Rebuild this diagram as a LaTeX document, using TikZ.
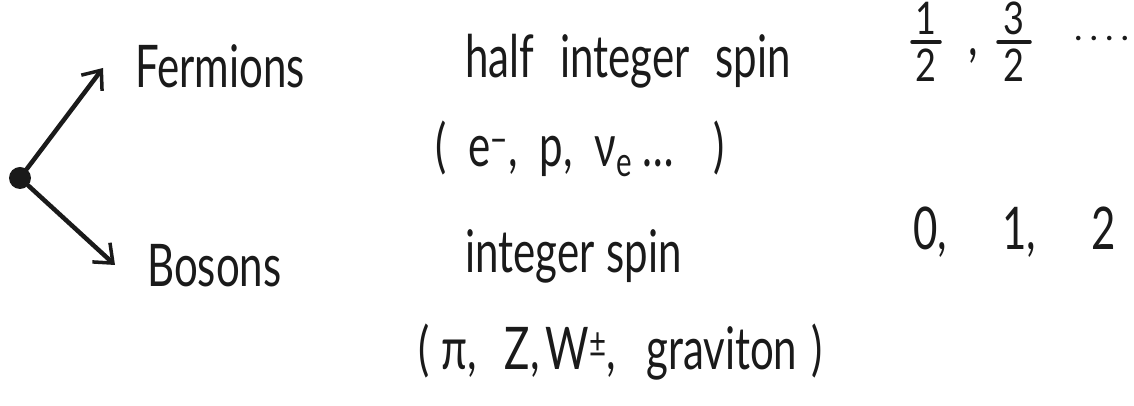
\documentclass[tikz,border=0pt]{standalone}
\usepackage{fontspec}
\setmainfont{Lato}
\usetikzlibrary{arrows.meta}
\definecolor{ink}{HTML}{1A1A1A}
\newcommand{\tallt}[1]{\scalebox{1}[1.4]{#1}}
\newcommand{\tallf}[1]{\scalebox{1}[1.25]{#1}}
\tikzset{
  lbl/.style={anchor=base west, inner sep=0pt, text=ink, font=\fontsize{42}{50}\selectfont},
  small/.style={inner sep=0pt, text=ink, font=\fontsize{36}{42}\selectfont},
  branch/.style={draw=ink, line width=4.5pt, line cap=round, -{Straight Barb[length=16pt,width=26pt,line width=3.5pt]}},
  hub/.style={circle, fill=ink, minimum size=22pt, inner sep=0pt},
  bar/.style={draw=ink, line width=3.5pt, line cap=round}
}
\begin{document}
\begin{tikzpicture}[x=1pt,y=1pt]
\useasboundingbox (0,0) rectangle (1134,406);
\node[hub] (dot) at (20,228) {};
\node[lbl] (ferm) at (135,318) {\tallt{Fermions}};
\node[lbl] (bos) at (147,119) {\tallt{Bosons}};
\coordinate (ftip) at (103,338);
\coordinate (btip) at (115,141);
\draw[branch] (dot) -- (ftip);
\draw[branch] (dot) -- (btip);
\node[lbl] (half) at (465,328) {\tallt{half\hspace{26pt}integer\hspace{26pt}spin}};
\node[lbl] (ferex) at (435,239) {\tallt{(\hspace{22pt}e\textsuperscript{−},\hspace{22pt}p,\hspace{22pt}ν\textsubscript{e}\hspace{10pt}…\hspace{40pt})}};
% fractions
\node[small, anchor=south] (n1) at (926,371) {\tallf{1}};
\node[small, anchor=north] (d1) at (926,357) {\tallf{2}};
\draw[bar] (912,364) -- (940,364);
\node[lbl] (c1) at (968,350) {\tallt{,}};
\node[small, anchor=south] (n3) at (1014,371) {\tallf{3}};
\node[small, anchor=north] (d3) at (1014,357) {\tallf{2}};
\draw[bar] (998,364) -- (1030,364);
\node[small, anchor=base west] (dots) at (1074,365) {.\hspace{7pt}.\hspace{7pt}.\hspace{7pt}.};
\node[lbl] (int) at (465,133) {\tallt{integer\hspace{12pt}spin}};
\node[lbl] (bosex) at (418,36) {\tallt{(\hspace{12pt}π,\hspace{28pt}Z,\hspace{6pt}W\textsuperscript{±},\hspace{30pt}graviton\hspace{14pt})}};
\node[lbl] (bvals) at (913,156) {\tallt{0,\hspace{55pt}1,\hspace{55pt}2}};
\end{tikzpicture}
\end{document}
